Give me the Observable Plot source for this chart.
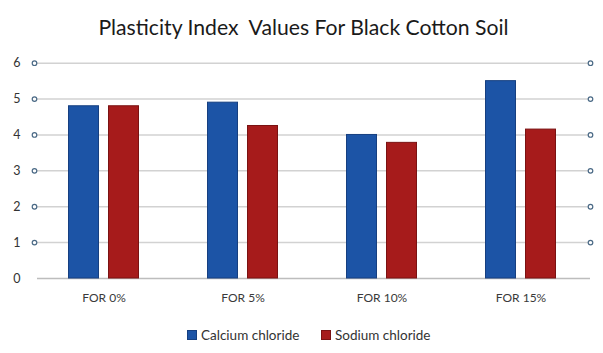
<!DOCTYPE html>
<html>
<head>
<meta charset="utf-8">
<script src="https://cdn.jsdelivr.net/npm/d3@7"></script>
<script src="https://cdn.jsdelivr.net/npm/@observablehq/plot@0.6"></script>
<style>
  html, body { margin: 0; padding: 0; background: #fff; }
  body { width: 603px; height: 353px; overflow: hidden; font-family: Lato, "Open Sans", sans-serif; }
  #title { height: 50px; position: relative; }
  #title span { position: absolute; left: 0; width: 603px; text-align: center; top: 15px; font-size: 21.2px; line-height: 25px; color: #1a1a1a; padding-left: 2px; }
  #legend { height: 43px; position: relative; font-size: 13.5px; color: #333; }
  .item { position: absolute; top: 17px; line-height: 16px; }
  .sw { display: inline-block; width: 8px; height: 8px; margin-right: 4px; vertical-align: 0px; }
</style>
</head>
<body>
<div id="title"><span>Plasticity Index&nbsp; Values For Black Cotton Soil</span></div>
<div id="chart"></div>
<div id="legend"></div>
<script>
const categories = ["FOR 0%", "FOR 5%", "FOR 10%", "FOR 15%"];
const seriesNames = ["Calcium chloride", "Sodium chloride"];
const calcium = [4.8, 4.9, 4.0, 5.5];
const sodium = [4.8, 4.25, 3.78, 4.15];
const yTicks = [0, 1, 2, 3, 4, 5, 6];

const colors = ["#1c54a6", "#a61b1b"];
const strokes = ["#163f80", "#7a1212"];

const data = [];
categories.forEach((c, i) => {
  data.push({cat: c, series: seriesNames[0], value: calcium[i]});
  data.push({cat: c, series: seriesNames[1], value: sodium[i]});
});

const chart = Plot.plot({
  width: 603,
  height: 260,
  marginLeft: 34,
  marginRight: 13,
  marginTop: 12.7,
  marginBottom: 32,
  style: {fontFamily: "Lato, 'Open Sans', sans-serif", background: "#fff", overflow: "visible"},
  x: {domain: categories, padding: 0, label: null},
  y: {domain: [0, 6], label: null},
  color: {domain: seriesNames, range: colors},
  marks: [
    Plot.ruleY(yTicks.filter(d => d > 0), {y: d => d, stroke: "#d2d2d2", strokeWidth: 1.5, insetLeft: 3}),
    Plot.ruleY([0], {stroke: "#bdbdbd", strokeWidth: 1.5, insetLeft: 3}),
    Plot.dot(yTicks.filter(d => d > 0), {y: d => d, frameAnchor: "left", r: 2.3, stroke: "#4b6a86", strokeWidth: 1.2, fill: "#fff"}),
    Plot.dot(yTicks.filter(d => d > 0), {y: d => d, frameAnchor: "right", r: 2.3, stroke: "#4b6a86", strokeWidth: 1.2, fill: "#fff"}),
    Plot.barY(data.filter(d => d.series === seriesNames[0]), {x: "cat", y: "value", fill: colors[0], stroke: strokes[0], strokeWidth: 1, insetLeft: 34.5, insetRight: 74.5}),
    Plot.barY(data.filter(d => d.series === seriesNames[1]), {x: "cat", y: "value", fill: colors[1], stroke: strokes[1], strokeWidth: 1, insetLeft: 74.5, insetRight: 34.5}),
    Plot.axisY({ticks: yTicks, tickSize: 0, tickPadding: 14, fontSize: 12.5, fill: "#333", label: null, tickFormat: d => d}),
    Plot.axisX({tickSize: 0, tickPadding: 15, fontSize: 12, fill: "#3a3a3a", label: null})
  ]
});
document.getElementById("chart").appendChild(chart);

const legend = document.getElementById("legend");
const lx = [187, 321];
seriesNames.forEach((s, i) => {
  const el = document.createElement("div");
  el.className = "item";
  el.style.left = lx[i] + "px";
  el.innerHTML = `<span class="sw" style="background:${colors[i]};border:0.5px solid ${strokes[i]}"></span>${s}`;
  legend.appendChild(el);
});
</script>
</body>
</html>
